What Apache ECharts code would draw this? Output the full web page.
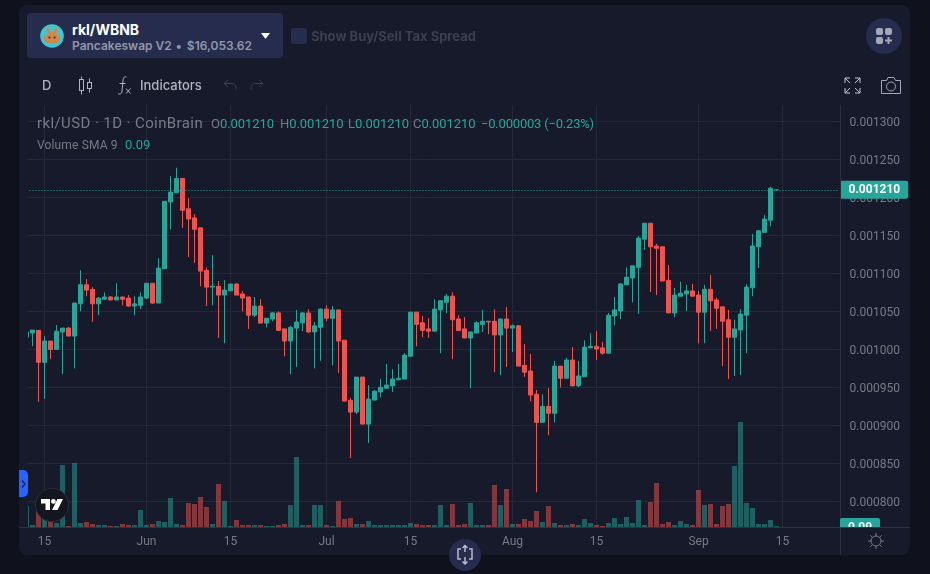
<!DOCTYPE html>
<html lang="en" style="height: 100%">
<head>
  <meta charset="utf-8">
  <style>
    body { margin: 0; height: 100%; overflow: hidden; background: #0f111d; font-family: Inter, "Noto Sans", sans-serif; }
    #panel { position: absolute; left: 19px; top: 5px; width: 891px; height: 550px; background: #161a2a; border-radius: 8px; }
    #container { position: absolute; left: 0; top: 0; width: 930px; height: 574px; }
    .ui { position: absolute; white-space: nowrap; }
    .legend { font-family: Roboto, sans-serif; color: #787b86; }
    .up { color: #26a69a; }
    svg { position: absolute; overflow: visible; }
  </style>
</head>
<body>
  <div id="panel"></div>
  <div id="container"></div>

  <!-- pair selector -->
  <div class="ui" style="left:27px;top:13px;width:256px;height:45px;background:#252c4d;border-radius:4px"></div>
  <svg style="left:40px;top:24px" width="24" height="24" viewBox="0 0 24 24">
    <circle cx="12" cy="12" r="11.8" fill="#3ec8d4"/>
    <path d="M7.6 10 C6 5.6 6.4 3 7.8 3 C9.2 3 9.8 5.4 10 7.8 L14 7.8 C14.2 5.4 14.8 3 16.2 3 C17.6 3 18 5.6 16.4 10 C19 11 20.2 12.6 20.2 14.4 C20.2 17.8 16.6 19.6 12 19.6 C7.4 19.6 3.8 17.8 3.8 14.4 C3.8 12.6 5 11 7.6 10 Z" fill="#d1884f"/>
    <circle cx="9.4" cy="13.6" r="1.1" fill="#633001"/><circle cx="14.6" cy="13.6" r="1.1" fill="#633001"/>
  </svg>
  <div class="ui" style="left:72px;top:22px;font-size:14px;font-weight:700;color:#ffffff;line-height:16px">rkl/WBNB</div>
  <div class="ui" style="left:72px;top:38px;font-size:12px;font-weight:600;color:#9297ad;line-height:15px">Pancakeswap V2 <span style="margin:0 2px 0 1px">&bull;</span> $16,053.62</div>
  <svg style="left:261px;top:33px" width="10" height="6"><path d="M0 0 L9 0 L4.5 6 Z" fill="#ffffff"/></svg>

  <div class="ui" style="left:291px;top:28px;width:16px;height:16px;background:#252c4d;border-radius:2px"></div>
  <div class="ui" style="left:311px;top:28px;font-size:13px;font-weight:700;color:#3c3f50;line-height:17px">Show Buy/Sell Tax Spread</div>

  <div class="ui" style="left:866px;top:18px;width:36px;height:36px;background:#252c4d;border-radius:50%"></div>
  <svg style="left:876px;top:28px" width="16" height="16">
    <rect x="0" y="0" width="7" height="7" rx="2" fill="#a3a7b8"/><rect x="9" y="0" width="7" height="7" rx="2" fill="#a3a7b8"/>
    <rect x="0" y="9" width="7" height="7" rx="2" fill="#a3a7b8"/><path d="M12.5 9 V16 M9 12.5 H16" stroke="#a3a7b8" stroke-width="2"/>
  </svg>

  <!-- toolbar -->
  <div class="ui" style="left:42px;top:77px;font-size:13px;font-weight:500;color:#b2b5be;line-height:17px">D</div>
  <svg style="left:78px;top:76px" width="15" height="19" fill="none" stroke="#b2b5be">
    <rect x="1.5" y="3.5" width="4" height="11"/><path d="M3.5 0.5 V3.5 M3.5 14.5 V18.5"/>
    <rect x="9.5" y="6.5" width="4" height="6"/><path d="M11.5 2.5 V6.5 M11.5 12.5 V16.5"/>
  </svg>
  <svg style="left:117px;top:76px" width="15" height="19" fill="none" stroke="#b2b5be">
    <path d="M9.5 1 C7 0 6.2 2 6 5 L5 15 C4.8 18 3 18.6 1 17.6 M2.5 7.5 H8.5"/><path d="M9 12.5 L13.5 17.5 M13.5 12.5 L9 17.5"/>
  </svg>
  <div class="ui" style="left:140px;top:77px;font-size:13px;font-weight:500;color:#b2b5be;line-height:17px">Indicators</div>
  <svg style="left:223px;top:79px" width="14" height="12" fill="none" stroke="#3f4252"><path d="M5 1 L1 4.5 L5 8 M1 4.5 H9 C12 4.5 13 7 13 11"/></svg>
  <svg style="left:250px;top:79px" width="14" height="12" fill="none" stroke="#3f4252"><path d="M9 1 L13 4.5 L9 8 M13 4.5 H5 C2 4.5 1 7 1 11"/></svg>
  <svg style="left:844px;top:77px" width="17" height="17" fill="none" stroke="#c4c6cf">
    <path d="M1 6 V1 H6 M1 1 L6 6 M11 1 H16 V6 M16 1 L11 6 M1 11 V16 H6 M1 16 L6 11 M16 11 V16 H11 M16 16 L11 11"/>
  </svg>
  <svg style="left:880px;top:76px" width="21" height="18" fill="none" stroke="#a3a7b8">
    <path d="M1.5 4.5 H6.5 L8 1.5 H14 L15.5 4.5 H20.5 V17.5 H1.5 Z"/><circle cx="11" cy="10.5" r="4.5"/>
  </svg>

  <!-- chart legend -->
  <div class="ui legend" style="left:37px;top:114px;font-size:15px;line-height:18px;letter-spacing:0.4px">rkl/USD &middot; 1D &middot; CoinBrain</div>
  <div class="ui legend" style="left:211px;top:115px;font-size:13px;line-height:17px;letter-spacing:-0.05px">O<span class="up">0.001210</span></div>
  <div class="ui legend" style="left:280px;top:115px;font-size:13px;line-height:17px;letter-spacing:-0.05px">H<span class="up">0.001210</span></div>
  <div class="ui legend" style="left:348px;top:115px;font-size:13px;line-height:17px;letter-spacing:-0.05px">L<span class="up">0.001210</span></div>
  <div class="ui legend" style="left:413px;top:115px;font-size:13px;line-height:17px;letter-spacing:-0.05px">C<span class="up">0.001210</span></div>
  <div class="ui legend up" style="left:481px;top:115px;font-size:13px;line-height:17px;letter-spacing:-0.2px">&minus;0.000003 (&minus;0.23%)</div>
  <div class="ui legend" style="left:37px;top:137px;font-size:12px;line-height:16px;letter-spacing:0.15px">Volume SMA 9</div>
  <div class="ui legend up" style="left:125px;top:137px;font-size:13px;line-height:16px">0.09</div>

  <!-- panel lines and corner bits -->
  <div class="ui" style="left:840px;top:105px;width:1px;height:450px;background:#2a2d3c"></div>
  <div class="ui" style="left:19px;top:527px;width:891px;height:1px;background:#2f3241"></div>
  <div class="ui" style="left:840px;top:518px;width:40px;height:9px;overflow:hidden;background:#26a69a;border-radius:2px 2px 0 0">
    <div style="font-family:Roboto,sans-serif;font-size:12px;font-weight:700;color:#fff;line-height:14px;text-align:center;padding-top:2px">0.09</div>
  </div>
  <svg style="left:868px;top:533px" width="16" height="16" fill="none" stroke="#787b86">
    <circle cx="8" cy="8" r="5"/><path d="M8 0 V3 M8 13 V16 M0 8 H3 M13 8 H16 M2.3 2.3 L4.4 4.4 M11.6 11.6 L13.7 13.7 M2.3 13.7 L4.4 11.6 M11.6 4.4 L13.7 2.3"/>
  </svg>

  <div class="ui" style="left:19px;top:470px;width:9px;height:27px;background:#2962ff;border-radius:0 5px 5px 0"></div>
  <svg style="left:21px;top:480px" width="5" height="8" fill="none" stroke="#10204f" stroke-width="1.3"><path d="M1 0.5 L4 4 L1 7.5"/></svg>

  <div class="ui" style="left:35px;top:488px;width:34px;height:34px;border-radius:50%;background:#14161f;border:1px solid #2a2c38;box-sizing:border-box"></div>
  <svg style="left:41px;top:499px" width="22" height="12" fill="#ffffff">
    <path d="M0 0 H9 V11 H4.5 V4.5 H0 Z"/><circle cx="12.4" cy="2.4" r="2.4"/><path d="M16.5 0 H22 L16.5 11 H11 Z"/>
  </svg>

  <div class="ui" style="left:449px;top:539px;width:32px;height:32px;border-radius:50%;background:#252c4d"></div>
  <svg style="left:456px;top:545px" width="18" height="20" fill="none" stroke="#b8bbc8" stroke-width="1.5">
    <path d="M5 4 H2 V14 H5 M13 4 H16 V14 H13 M9 0.5 V7 M6.5 3 L9 0.5 L11.5 3 M9 12 V19 M6.5 16.5 L9 19 L11.5 16.5"/>
  </svg>

  <script type="text/javascript" src="https://cdn.jsdelivr.net/npm/echarts@6/dist/echarts.min.js"></script>

  <script type="text/javascript">
    // prices are in millionths of a dollar, one entry per day from May 12
    var opens = [1016, 1021.5, 1025, 983, 1011, 1000, 1023, 1028, 1017.5, 1060, 1085, 1079, 1060, 1066, 1069, 1065, 1069, 1067.5, 1057, 1058,
      1067.5, 1087, 1061, 1106, 1194, 1206, 1225, 1185, 1173, 1160, 1104, 1082, 1083, 1071.5, 1077, 1086, 1073, 1069, 1045, 1057, 1034.6, 1040, 1048, 1027, 1011, 1028, 1035, 1048, 1023, 1029,
      1053, 1041, 1052, 1012, 933, 917.5, 963.6, 901.7, 933.3, 944, 949, 952, 960, 961, 991, 1049, 1035, 1027, 1024, 1052, 1062, 1070, 1040, 1027, 1015, 1021.5, 1033, 1037, 1037, 1019, 1040,
      1028, 1031, 979, 971.5, 941, 904, 925, 916, 978, 962, 986, 952, 964, 1002, 1004, 1002, 995, 1044, 1050.5, 1085, 1094, 1108, 1145, 1166, 1136, 1135, 1091, 1048, 1070, 1073, 1077,
      1071.5, 1049, 1079, 1065, 1056, 1039, 1016, 1025.5, 1045, 1081, 1135, 1154, 1170, 1210];
    var closes = [1023, 1025.4, 983, 1011, 1000, 1024, 1028, 1017.5, 1061, 1085, 1078, 1060, 1067.5, 1069, 1065, 1069, 1066, 1057, 1060, 1069,
      1087, 1061, 1107, 1195, 1207, 1225, 1183, 1171.5, 1158, 1103, 1082, 1083, 1071.5, 1078, 1086, 1071.5, 1067.5, 1045, 1057, 1034.6, 1041, 1048, 1025, 1011, 1029, 1036, 1048, 1023, 1031, 1053,
      1041, 1052, 1011, 932, 917.5, 963.6, 901.7, 934.6, 945, 950, 953, 961, 962, 992.5, 1049, 1033, 1025, 1024, 1053, 1064, 1070, 1039, 1025, 1015, 1023, 1035, 1037, 1036, 1019, 1040, 1028,
      1031, 978, 970, 940, 904, 925, 916, 978, 962, 986, 952, 965, 1003, 1004, 1000.5, 995, 1045, 1052, 1086, 1095, 1110, 1146.5, 1166, 1135, 1133, 1090, 1048, 1071.5, 1074, 1077, 1070,
      1049, 1079, 1064, 1054, 1037, 1016, 1027, 1046.5, 1082, 1136, 1156, 1171.5, 1212, 1210];
    var highs = [1023, 1025.4, 1025, 1017.5, 1011, 1032, 1028, 1029.4, 1061, 1104, 1092.5, 1082, 1069, 1075, 1070, 1087, 1069, 1071.5, 1070, 1075,
      1087, 1087, 1120, 1195, 1228, 1239, 1225, 1199, 1178, 1160, 1108, 1124, 1090, 1091, 1086, 1087, 1077, 1069, 1069, 1066, 1041, 1049, 1050, 1027, 1031, 1052, 1049, 1053, 1036, 1054,
      1058, 1057, 1052, 1012, 936, 963.6, 963.6, 953, 946.5, 961, 981, 974, 981, 995, 1049, 1049, 1044, 1041, 1066, 1065, 1073, 1075, 1045, 1042.5, 1023, 1037, 1052, 1037, 1053, 1040, 1056,
      1033, 1032, 1007, 994, 946.5, 941, 949, 985, 978, 989, 1003, 985, 1012, 1021.5, 1024, 1010, 1048, 1069, 1087, 1108, 1110, 1149, 1166, 1166, 1139, 1135, 1111, 1081, 1089, 1085, 1086,
      1077, 1085, 1098, 1068, 1056, 1052, 1039, 1053, 1086, 1152, 1157, 1177, 1214, 1210];
    var lows = [1016, 1004, 931, 935, 987, 1000, 967.5, 1017.5, 975, 1050, 1070, 1036, 1045, 1065, 1065, 1065, 1058, 1056, 1045, 1053,
      1066, 1060, 1061, 1106, 1158, 1206, 1160, 1121.5, 1114, 1083, 1057, 1058, 1015, 1008, 1077, 1071.5, 1050, 1027, 1042.5, 1034.6, 1029, 1037, 1025, 991, 967.5, 977, 1024, 1021.5, 975, 985,
      1037, 979, 969, 932, 857, 915, 901.7, 877, 933, 937, 949, 944, 960, 961, 991, 1004, 1016, 1015, 1024, 995, 1048, 987, 1025, 1015, 949, 1021.5, 1023, 1020, 970, 966, 977,
      996.5, 978, 964, 932, 812, 904, 887, 904, 950, 962, 952, 950.5, 964, 1002, 986, 993, 995, 1032, 1040, 1085, 1062, 1046.5, 1131, 1075.5, 1071.5, 1090, 1048, 1042.5, 1070, 1050.5, 1070,
      1008, 1008, 1024, 1027, 978, 961, 965, 966, 995, 1070, 1107, 1154, 1162, 1210];
    // volume in relative units
    var volumes = [63, 6, 51, 45, 18, 12, 186, 3, 192, 12, 15, 9, 6, 6, 3, 3, 9, 6, 6, 51,
      6, 9, 18, 15, 87, 9, 6, 72, 69, 90, 60, 9, 129, 78, 3, 21, 6, 6, 6, 6, 3, 3, 6, 9, 66, 210, 6, 6, 66, 66,
      6, 3, 78, 24, 27, 9, 9, 18, 6, 6, 6, 6, 6, 6, 12, 9, 6, 6, 6, 66, 6, 69, 6, 9, 72, 6, 6, 6, 126, 66, 114,
      9, 9, 24, 18, 48, 15, 63, 12, 6, 6, 9, 6, 24, 12, 6, 3, 12, 27, 9, 30, 12, 81, 6, 75, 132, 9, 15, 6, 18, 9, 6,
      111, 66, 69, 9, 63, 69, 183, 315, 72, 57, 9, 9, 21, 3];

    var tickLabels = { '05-15': '15', '06-01': 'Jun', '06-15': '15', '07-01': 'Jul', '07-15': '15', '08-01': 'Aug', '08-15': '15', '09-01': 'Sep', '09-15': '15' };
    var priceTicks = { min: 750, max: 1350, step: 50 };
    var lastPrice = 1210;

    var UP = '#26a69a', DOWN = '#ef5350', GRID = '#252836', LABEL = '#787b86';

    // day axis runs past the last candle, same as the empty right side of the chart
    var days = [];
    for (var i = 0; i < 136; i++) {
      days.push(new Date(Date.UTC(2023, 4, 12 + i)).toISOString().slice(5, 10));
    }
    var isTick = function (idx, day) { return tickLabels[day] !== undefined; };

    var candles = opens.map(function (o, i) {
      return [o / 1e6, closes[i] / 1e6, lows[i] / 1e6, highs[i] / 1e6];
    });
    var volumeBars = volumes.map(function (v, i) {
      return { value: v, itemStyle: { color: closes[i] >= opens[i] ? 'rgba(38,166,154,0.5)' : 'rgba(239,83,80,0.5)' } };
    });

    var myChart = echarts.init(document.getElementById('container'), null, { renderer: 'canvas' });

    myChart.setOption({
      animation: false,
      // price grid runs from 750 to 1350 so ticks land on round values, volume grid is the visible frame
      grid: [
        { left: 23.5, width: 816, top: 83.4, height: 456 },
        { left: 23.5, width: 816, top: 105, height: 422 }
      ],
      xAxis: [
        { type: 'category', gridIndex: 0, data: days, show: false },
        {
          type: 'category', gridIndex: 1, data: days,
          axisLine: { show: false },
          axisTick: { show: false },
          axisLabel: {
            interval: isTick, margin: 9, color: LABEL, fontFamily: 'Roboto', fontSize: 12,
            formatter: function (d) { return tickLabels[d]; }
          },
          splitLine: { show: true, interval: isTick, alignWithLabel: true, lineStyle: { color: GRID } }
        }
      ],
      yAxis: [
        {
          type: 'value', gridIndex: 0, position: 'right', scale: true,
          min: priceTicks.min / 1e6, max: priceTicks.max / 1e6, interval: priceTicks.step / 1e6,
          axisLine: { show: false },
          axisTick: { show: false },
          axisLabel: {
            margin: 10, showMinLabel: false, showMaxLabel: false,
            formatter: function (v) { return '{p|' + v.toFixed(6) + '}'; },
            rich: { p: { color: LABEL, fontFamily: 'Roboto', fontSize: 12, padding: [3, 0, 0, 0] } }
          },
          splitLine: { lineStyle: { color: GRID }, showMinLine: false, showMaxLine: false }
        },
        { type: 'value', gridIndex: 1, show: false, min: 0, max: 1266, splitLine: { show: false } }
      ],
      series: [
        {
          type: 'bar', xAxisIndex: 1, yAxisIndex: 1, data: volumeBars, barWidth: 5, z: 1
        },
        {
          type: 'candlestick', xAxisIndex: 0, yAxisIndex: 0, data: candles, barWidth: 5, z: 3,
          itemStyle: { color: UP, color0: DOWN, borderColor: UP, borderColor0: DOWN, borderColorDoji: UP, borderWidth: 1 },
          markLine: {
            silent: true, symbol: 'none', z: 5, precision: 8,
            lineStyle: { color: UP, type: [1, 2], width: 1 },
            label: {
              position: 'end', distance: 1, backgroundColor: UP, color: '#ffffff', padding: [3, 8, 3, 8],
              borderRadius: [0, 2, 2, 0], fontFamily: 'Roboto', fontSize: 12, fontWeight: 'bold',
              formatter: function () { return (lastPrice / 1e6).toFixed(6); }
            },
            data: [{ yAxis: lastPrice / 1e6 }]
          }
        }
      ],
      // hides the part of the first candle that falls outside the pane
      graphic: [{
        type: 'rect', z: 100, shape: { x: 19, y: 105, width: 9, height: 430 }, style: { fill: '#161a2a' }
      }]
    });

    window.addEventListener('resize', myChart.resize);
  </script>
</body>
</html>
